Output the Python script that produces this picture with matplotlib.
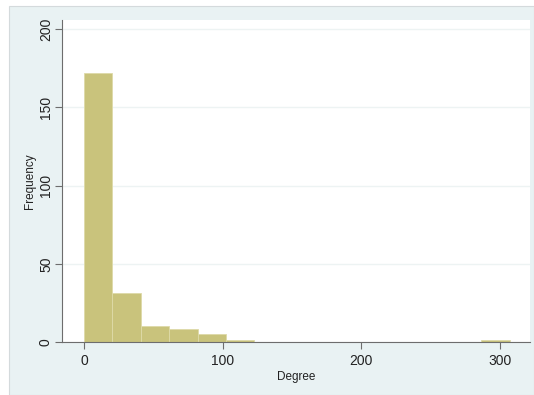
import matplotlib
matplotlib.use("Agg")
import matplotlib.pyplot as plt
import matplotlib.patches as mpatches
import numpy as np


# Histogram of degree, 15 bins over 0..307
bin_start = 0.0
bin_width = 307.0 / 15
counts = [172, 31, 10, 8, 5, 1, 0, 0, 0, 0, 0, 0, 0, 0, 1]

x_ticks = [0, 100, 200, 300]
y_ticks = [0, 50, 100, 150, 200]

bar_colour = "#c9c37c"
edge_colour = "#dedaa8"
panel_colour = "#e9f2f3"
axis_colour = "#6d6d6d"

plt.rcParams["font.family"] = ["Liberation Sans", "DejaVu Sans"]

figure = plt.figure(figsize=(5.34, 3.95), dpi=100)
figure.patch.set_facecolor("white")

# Outer graph region (Stata-like light blue panel)
w, h = 534.0, 395.0
figure.patches.append(mpatches.Rectangle(
    (9 / w, 0), 1 - 9 / w, (395 - 6) / h, transform=figure.transFigure,
    facecolor=panel_colour, edgecolor="#d4dadc", linewidth=0.8, zorder=-5))

# Clipped document title, only the descender is visible
figure.text(235 / w, 1.0 + 9 / h, "g", family="Liberation Serif", fontsize=14,
    ha="center", va="center", color="#111111")

axes = figure.add_axes([62 / w, (395 - 342) / h, (530 - 62) / w, (342 - 20) / h])
axes.set_facecolor("white")
axes.set_zorder(1)

lefts = bin_start + bin_width * np.arange(len(counts))
axes.bar(lefts, counts, width=bin_width, align="edge",
    color=bar_colour, edgecolor=edge_colour, linewidth=0.6, zorder=2)

axes.set_xlim(-15.9, 321.6)
axes.set_ylim(0, 205.8)

axes.set_yticks(y_ticks)
axes.set_xticks(x_ticks)
axes.yaxis.grid(True, color="#edf3f3", linewidth=1.0, zorder=0)
axes.set_axisbelow(True)

for side in ["top", "right"]:
    axes.spines[side].set_visible(False)
for side in ["left", "bottom"]:
    axes.spines[side].set_color(axis_colour)
    axes.spines[side].set_linewidth(0.8)

axes.tick_params(axis="both", direction="out", length=5, width=0.8,
    color=axis_colour, labelsize=10, labelcolor="#222222")
axes.tick_params(axis="y", pad=1.5)
plt.setp(axes.get_yticklabels(), rotation=90, va="center")

axes.set_xlabel("Degree", fontsize=8.5, color="#222222", labelpad=2)
axes.set_ylabel("Frequency", fontsize=8.5, color="#222222", labelpad=2)

plt.savefig("out.png", dpi=100)
plt.close()
